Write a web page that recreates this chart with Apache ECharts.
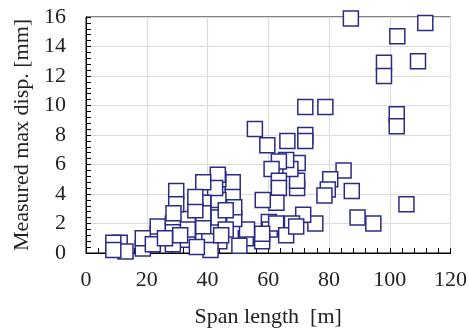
<!DOCTYPE html>
<html><head><meta charset="utf-8">
<script src="https://cdn.jsdelivr.net/npm/echarts@6/dist/echarts.min.js"></script>
<style>html,body{margin:0;padding:0;background:#fff}#c{width:470px;height:333px}</style>
</head><body><div id="c"></div>
<script>
var spanLength = [
  87.2,111.7,102.5,109.3,98.1,98.1,102.3,102.3,72.2,78.8,
  55.6,59.7,66.3,72.2,72.2,84.8,87.5,89.4,94.6,105.5,
  80.4,79.6,78.5,75.5,71.5,69.5,69.5,69.7,67.3,65.9,
  63.5,61.1,63.5,63.5,62.7,58.2,60.2,60.5,62.6,67.8,
  65.9,69.2,58.0,58.0,52.6,53.0,48.8,48.3,48.3,48.8,
  43.9,43.6,43.6,43.6,43.4,42.5,38.6,38.6,38.6,38.6,
  38.6,33.5,33.5,33.5,29.7,29.7,28.6,28.6,28.6,28.8,
  23.6,23.6,18.7,18.7,11.1,9.0,13.0,9.0,22.0,36.0,
  36.0,46.0,46.0,40.6,41.0,36.5,31.0,26.0,50.5,44.5
];
var maxDisp = [
  15.9,15.6,14.7,13.0,12.9,12.0,9.4,8.6,9.9,9.9,
  8.4,7.3,7.6,8.0,7.6,5.6,4.2,2.4,2.0,3.3,
  5.0,4.3,3.9,2.0,2.6,4.4,4.9,6.1,5.7,6.3,
  6.2,5.7,4.9,4.4,3.4,3.6,2.1,1.6,2.0,2.0,
  1.2,1.8,0.8,1.3,1.0,1.6,2.3,4.8,3.8,3.1,
  0.8,2.4,3.6,5.0,5.3,4.4,4.8,3.4,1.8,0.8,
  2.7,2.3,0.9,1.6,4.2,3.3,2.0,1.4,0.6,2.7,
  1.3,1.8,0.3,1.0,0.7,0.7,0.1,0.2,0.6,2.9,
  3.8,1.6,2.9,0.8,0.2,0.4,1.2,1.0,0.5,1.2
];
var xTicks = [0,20,40,60,80,100,120];
var yTicks = [0,2,4,6,8,10,12,14,16];

var pts = spanLength.map(function(x,i){return [x, maxDisp[i]];});
var font = '"Liberation Serif", "Times New Roman", serif';
var chart = echarts.init(document.getElementById('c'));
chart.setOption({
  animation:false,
  backgroundColor:'#fff',
  grid:{left:86,right:17,top:17,bottom:76,show:true,borderColor:'#000',borderWidth:1,backgroundColor:'transparent'},
  xAxis:{type:'value',min:xTicks[0],max:xTicks[xTicks.length-1],interval:20,
    name:'Span length  [m]',nameLocation:'middle',nameGap:53,
    nameTextStyle:{fontFamily:font,fontSize:22,color:'#222'},
    axisLine:{lineStyle:{color:'#000',width:1}},
    axisTick:{show:true,inside:true,length:5,lineStyle:{color:'#000'}},
    minorTick:{show:true,splitNumber:5,length:5,lineStyle:{color:'#000'}},
    splitLine:{show:true,lineStyle:{color:'#dcdcdc',width:1.2}},
    axisLabel:{fontFamily:font,fontSize:22,color:'#222',margin:16}},
  yAxis:{type:'value',min:yTicks[0],max:yTicks[yTicks.length-1],interval:2,
    name:'Measured max disp. [mm]',nameLocation:'middle',nameGap:50,nameRotate:90,
    nameTextStyle:{fontFamily:font,fontSize:22,color:'#222'},
    axisLine:{show:true,lineStyle:{color:'#000',width:1}},
    axisTick:{show:true,inside:true,length:5,lineStyle:{color:'#000'}},
    minorTick:{show:true,splitNumber:5,length:5,lineStyle:{color:'#000'}},
    splitLine:{show:true,lineStyle:{color:'#dcdcdc',width:1.2}},
    axisLabel:{fontFamily:font,fontSize:22,color:'#222',margin:20}},
  series:[{type:'scatter',data:pts,symbol:'rect',symbolSize:15,clip:false,
    itemStyle:{color:'#fff',borderColor:'#2b2b85',borderWidth:1.5,opacity:1}}]
});
</script></body></html>
